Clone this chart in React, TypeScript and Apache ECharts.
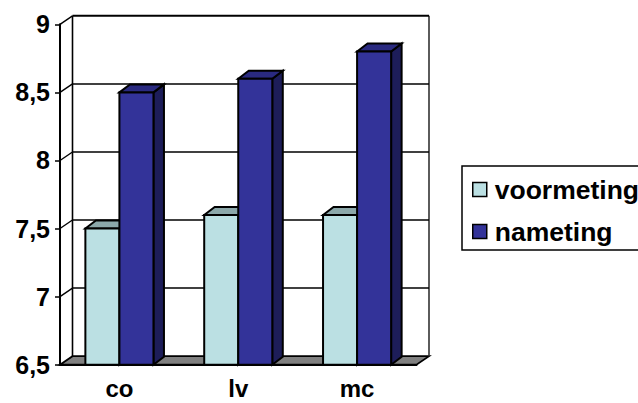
import React, { useEffect, useRef } from "react";
import * as echarts from "echarts";

const categories = ["co", "lv", "mc"];
const voormeting = [7.5, 7.6, 7.6];
const nameting = [8.5, 8.6, 8.8];
const gridValues = [7, 7.5, 8, 8.5, 9];
const seriesNames = ["voormeting", "nameting"];

const DEPTH_X = 12.5;
const DEPTH_Y = 8.5;
const BAR_DEPTH_X = 10.5;
const BAR_DEPTH_Y = 8;
const BAR_SHARE = 34 / 118.7;
const AXIS_MIN = 6.5;
const AXIS_MAX = 9;
const OUTLINE = "#000000";

function polygon(points: number[][], fill: string, lineWidth = 2) {
  return {
    type: "polygon",
    shape: { points },
    style: { fill, stroke: OUTLINE, lineWidth, lineJoin: "miter" },
  };
}

function line(x1: number, y1: number, x2: number, y2: number, lineWidth: number, stroke = OUTLINE) {
  return {
    type: "line",
    shape: { x1, y1, x2, y2 },
    style: { stroke, lineWidth },
  };
}

// Back wall, floor and the slanted stubs joining the value axis to each gridline.
function renderWall(params: any, api: any) {
  const rows = gridValues.map((v) => api.coord([0, v])[1]);
  const [baseX, baseY] = [params.coordSys.x, api.coord([0, AXIS_MIN])[1]];
  const right = params.coordSys.x + params.coordSys.width;
  const children: any[] = [];
  if (params.dataIndex === 0) {
    children.push(
      polygon(
        [
          [baseX, baseY],
          [baseX + DEPTH_X, baseY - DEPTH_Y],
          [right + DEPTH_X, baseY - DEPTH_Y],
          [right, baseY],
        ],
        "#808080",
        1.8,
      ),
    );
    const top = api.coord([0, AXIS_MAX])[1] - DEPTH_Y;
    children.push(line(baseX + DEPTH_X, top, baseX + DEPTH_X, baseY - DEPTH_Y, 1.6));
    children.push(line(right + DEPTH_X, top, right + DEPTH_X, baseY - DEPTH_Y, 1.6, "#333333"));
    rows.forEach((y, i) => {
      children.push(line(baseX + DEPTH_X, y - DEPTH_Y, right + DEPTH_X, y - DEPTH_Y, i === rows.length - 1 ? 2 : 1.5));
      children.push(line(baseX, y, baseX + DEPTH_X, y - DEPTH_Y, 1.4));
    });
  }
  return { type: "group", children };
}

function barRenderer(offsetIndex: number, front: string, top: string, side: string) {
  return (params: any, api: any) => {
    const catIndex = api.value(0);
    const value = api.value(1);
    const [center, yTop] = api.coord([catIndex, value]);
    const [, yBase] = api.coord([catIndex, AXIS_MIN]);
    const w = api.size([1, 0])[0] * BAR_SHARE;
    const x0 = center - w + offsetIndex * w;
    const x1 = x0 + w;
    return {
      type: "group",
      children: [
        polygon(
          [
            [x1, yTop],
            [x1 + BAR_DEPTH_X, yTop - BAR_DEPTH_Y],
            [x1 + BAR_DEPTH_X, yBase - BAR_DEPTH_Y],
            [x1, yBase],
          ],
          side,
        ),
        polygon(
          [
            [x0, yTop],
            [x0 + BAR_DEPTH_X, yTop - BAR_DEPTH_Y],
            [x1 + BAR_DEPTH_X, yTop - BAR_DEPTH_Y],
            [x1, yTop],
          ],
          top,
        ),
        polygon(
          [
            [x0, yTop],
            [x1, yTop],
            [x1, yBase],
            [x0, yBase],
          ],
          front,
        ),
      ],
    };
  };
}

const font = "'Liberation Sans', Arial, sans-serif";

export default function App() {
  const ref = useRef<HTMLDivElement>(null);

  useEffect(() => {
    const chart = echarts.init(ref.current!, undefined, { renderer: "svg" });
    chart.setOption({
      animation: false,
      backgroundColor: "#ffffff",
      grid: {
        left: 60,
        right: 638 - 416.5,
        top: 24.3,
        bottom: 403 - 364.7,
        containLabel: false,
        outerBoundsMode: "none",
      },
      xAxis: {
        type: "category",
        data: categories,
        axisLine: { lineStyle: { color: OUTLINE, width: 2 } },
        axisTick: { length: 6, lineStyle: { color: OUTLINE, width: 1.5 } },
        axisLabel: {
          color: "#000000",
          fontFamily: font,
          fontWeight: "bold",
          fontSize: 24,
          lineHeight: 20,
          margin: 14,
        },
        z: 10,
      },
      yAxis: {
        type: "value",
        min: AXIS_MIN,
        max: AXIS_MAX,
        interval: 0.5,
        splitLine: { show: false },
        axisLine: { show: true, lineStyle: { color: OUTLINE, width: 2 } },
        axisTick: { show: true, length: 5, lineStyle: { color: OUTLINE, width: 1.5 } },
        axisLabel: {
          color: "#000000",
          fontFamily: font,
          fontWeight: "bold",
          fontSize: 25,
          margin: 10,
          formatter: (v: number) => String(v).replace(".", ","),
        },
        z: 10,
      },
      legend: {
        data: seriesNames,
        orient: "vertical",
        left: 462,
        top: 166,
        padding: [10, 10, 5, 10],
        itemWidth: 14,
        itemHeight: 14,
        itemGap: 15,
        icon: "rect",
        borderColor: OUTLINE,
        borderWidth: 1.5,
        itemStyle: { borderColor: OUTLINE, borderWidth: 1.5 },
        textStyle: { color: "#000000", fontFamily: font, fontWeight: "bold", fontSize: 26.5, padding: [0, 0, 0, 3] },
      },
      series: [
        {
          type: "custom",
          name: "wall",
          renderItem: renderWall,
          data: [[0, AXIS_MIN]],
          z: 1,
          silent: true,
          clip: false,
        },
        {
          type: "custom",
          name: seriesNames[0],
          itemStyle: { color: "#BBE0E3" },
          renderItem: barRenderer(0, "#BBE0E3", "#8CA8AA", "#5E7072"),
          encode: { x: 0, y: 1 },
          data: voormeting.map((v, i) => [i, v]),
          z: 2,
        },
        {
          type: "custom",
          name: seriesNames[1],
          itemStyle: { color: "#333399" },
          renderItem: barRenderer(1, "#333399", "#2A2A80", "#1D1D59"),
          encode: { x: 0, y: 1 },
          data: nameting.map((v, i) => [i, v]),
          z: 3,
        },
      ],
    });
    return () => chart.dispose();
  }, []);

  return <div ref={ref} style={{ position: "fixed", left: 0, top: 0, width: 638, height: 403 }} />;
}
